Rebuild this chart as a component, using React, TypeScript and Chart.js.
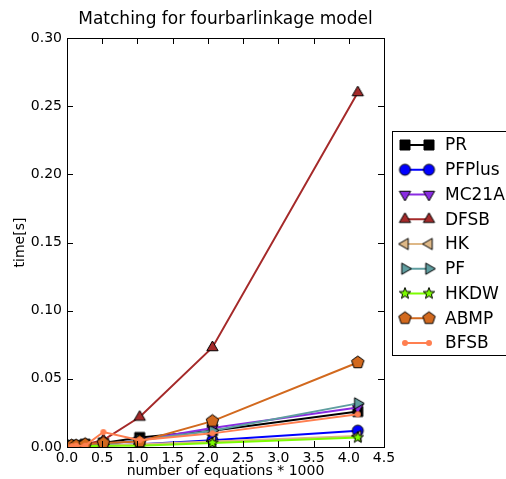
import { useEffect, useRef } from "react";
import { Chart, registerables, type Plugin } from "chart.js";

Chart.register(...registerables);

// number of equations / 1000
const sizes = [0.064, 0.129, 0.258, 0.516, 1.032, 2.064, 4.128];

const seriesNames = ["PR", "PFPlus", "MC21A", "DFSB", "HK", "PF", "HKDW", "ABMP", "BFSB"];

const prTimes = [0.001, 0.001, 0.002, 0.003, 0.007, 0.012, 0.026];
const pfPlusTimes = [0.0005, 0.0005, 0.001, 0.001, 0.002, 0.005, 0.012];
const mc21aTimes = [0.001, 0.001, 0.001, 0.002, 0.005, 0.014, 0.029];
const dfsbTimes = [0.001, 0.001, 0.002, 0.005, 0.022, 0.073, 0.26];
const hkTimes = [0.0005, 0.0005, 0.001, 0.001, 0.002, 0.004, 0.008];
const pfTimes = [0.001, 0.001, 0.001, 0.002, 0.005, 0.012, 0.032];
const hkdwTimes = [0.0003, 0.0003, 0.0005, 0.001, 0.001, 0.003, 0.007];
const abmpTimes = [0.001, 0.001, 0.002, 0.003, 0.004, 0.019, 0.062];
const bfsbTimes = [0.0005, 0.001, 0.001, 0.011, 0.005, 0.01, 0.024];

const allTimes = [prTimes, pfPlusTimes, mc21aTimes, dfsbTimes, hkTimes, pfTimes, hkdwTimes, abmpTimes, bfsbTimes];

const xTicks = [0, 0.5, 1, 1.5, 2, 2.5, 3, 3.5, 4, 4.5];
const yTicks = [0, 0.05, 0.1, 0.15, 0.2, 0.25, 0.3];

type Shape = "square" | "circle" | "triDown" | "triUp" | "triLeft" | "triRight" | "star" | "pentagon" | "dot";

const styles: { color: string; shape: Shape; size: number; edge: string | null }[] = [
  { color: "#000000", shape: "square", size: 10, edge: "#000000" },
  { color: "#0000ff", shape: "circle", size: 11, edge: "#000000" },
  { color: "#8a2be2", shape: "triDown", size: 13, edge: "#000000" },
  { color: "#a52a2a", shape: "triUp", size: 13, edge: "#000000" },
  { color: "#deb887", shape: "triLeft", size: 13, edge: "#000000" },
  { color: "#5f9ea0", shape: "triRight", size: 13, edge: "#000000" },
  { color: "#7cfc00", shape: "star", size: 12, edge: "#000000" },
  { color: "#d2691e", shape: "pentagon", size: 13, edge: "#000000" },
  { color: "#ff7f50", shape: "dot", size: 6, edge: null },
];

function polygon(g: CanvasRenderingContext2D, m: number, r: number, n: number, start: number, inner?: number) {
  const count = inner ? n * 2 : n;
  for (let i = 0; i < count; i++) {
    const a = start + (i * 2 * Math.PI) / count;
    const rr = inner && i % 2 === 1 ? r * inner : r;
    const px = m + rr * Math.cos(a);
    const py = m + rr * Math.sin(a);
    if (i === 0) g.moveTo(px, py);
    else g.lineTo(px, py);
  }
}

function makeMarker(shape: Shape, fill: string, edge: string | null, size: number) {
  const pad = 2;
  const s = size + pad * 2;
  const c = document.createElement("canvas");
  c.width = s;
  c.height = s;
  const g = c.getContext("2d")!;
  const m = s / 2;
  const r = size / 2;
  g.beginPath();
  switch (shape) {
    case "square":
      g.rect(m - r, m - r, size, size);
      break;
    case "circle":
    case "dot":
      g.arc(m, m, r, 0, Math.PI * 2);
      break;
    case "triUp":
      polygon(g, m, r, 3, -Math.PI / 2);
      break;
    case "triDown":
      polygon(g, m, r, 3, Math.PI / 2);
      break;
    case "triLeft":
      polygon(g, m, r, 3, Math.PI);
      break;
    case "triRight":
      polygon(g, m, r, 3, 0);
      break;
    case "pentagon":
      polygon(g, m, r, 5, -Math.PI / 2);
      break;
    case "star":
      polygon(g, m, r, 5, -Math.PI / 2, 0.42);
      break;
  }
  g.closePath();
  g.fillStyle = fill;
  g.fill();
  if (edge) {
    g.lineWidth = 1;
    g.strokeStyle = edge;
    g.stroke();
  }
  return c;
}

const FONT = "DejaVu Sans";

export default function App() {
  const canvasRef = useRef<HTMLCanvasElement | null>(null);

  useEffect(() => {
    document.body.style.margin = "0";
    const canvas = canvasRef.current;
    if (!canvas) return;

    const markers = styles.map((s) => makeMarker(s.shape, s.color, s.edge, s.size));

    const frame: Plugin<"line"> = {
      id: "mplFrame",
      afterDraw(chart) {
        const { ctx, chartArea: a, scales } = chart;
        ctx.save();
        ctx.strokeStyle = "#000";
        ctx.lineWidth = 1;
        ctx.strokeRect(Math.round(a.left) + 0.5, Math.round(a.top) + 0.5, Math.round(a.right - a.left), Math.round(a.bottom - a.top));
        ctx.beginPath();
        for (const v of xTicks) {
          const px = Math.round(scales.x.getPixelForValue(v)) + 0.5;
          ctx.moveTo(px, a.bottom);
          ctx.lineTo(px, a.bottom - 6);
          ctx.moveTo(px, a.top);
          ctx.lineTo(px, a.top + 6);
        }
        for (const v of yTicks) {
          const py = Math.round(scales.y.getPixelForValue(v)) + 0.5;
          ctx.moveTo(a.left, py);
          ctx.lineTo(a.left + 6, py);
          ctx.moveTo(a.right, py);
          ctx.lineTo(a.right - 6, py);
        }
        ctx.stroke();

        // title
        ctx.fillStyle = "#000";
        ctx.font = `17px "${FONT}"`;
        ctx.textAlign = "center";
        ctx.textBaseline = "middle";
        ctx.fillText("Matching for fourbarlinkage model", (a.left + a.right) / 2, 20);

        // legend
        const lx = 392.5;
        const ly = 131.5;
        ctx.fillStyle = "#fff";
        ctx.fillRect(lx, ly, 130, 224);
        ctx.strokeRect(lx, ly, 130, 224);
        ctx.font = `17px "${FONT}"`;
        ctx.textAlign = "left";
        seriesNames.forEach((name, i) => {
          const y = 145 + i * 24.75;
          ctx.strokeStyle = styles[i].color;
          ctx.lineWidth = 2;
          ctx.beginPath();
          ctx.moveTo(405, y);
          ctx.lineTo(429, y);
          ctx.stroke();
          const mk = markers[i];
          ctx.drawImage(mk, 405 - mk.width / 2, y - mk.height / 2);
          ctx.drawImage(mk, 429 - mk.width / 2, y - mk.height / 2);
          ctx.fillStyle = "#000";
          ctx.fillText(name, 445, y + 1);
        });
        ctx.restore();
      },
    };

    const chart = new Chart(canvas, {
      type: "line",
      data: {
        datasets: seriesNames.map((name, i) => ({
          label: name,
          data: sizes.map((x, j) => ({ x, y: allTimes[i][j] })),
          borderColor: styles[i].color,
          backgroundColor: styles[i].color,
          borderWidth: 2,
          pointStyle: markers[i],
          pointRadius: 5,
          tension: 0,
          fill: false,
          order: seriesNames.length - i,
        })),
      },
      options: {
        animation: false,
        responsive: true,
        maintainAspectRatio: false,
        events: [],
        layout: { padding: { left: 0, right: 122, top: 38, bottom: 0 } },
        plugins: {
          legend: { display: false },
          title: { display: false },
          tooltip: { enabled: false },
        },
        scales: {
          x: {
            type: "linear",
            min: 0,
            max: 4.5,
            afterFit: (s) => {
              s.height = 32;
            },
            afterBuildTicks: (s) => {
              s.ticks = xTicks.map((value) => ({ value }));
            },
            grid: { display: false, drawTicks: false },
            border: { display: false },
            ticks: {
              padding: 3,
              color: "#000",
              font: { family: FONT, size: 14 },
              callback: (v) => Number(v).toFixed(1),
            },
            title: {
              display: true,
              text: "number of equations * 1000",
              color: "#000",
              font: { family: FONT, size: 14 },
              padding: { top: 0, bottom: -1 },
            },
          },
          y: {
            type: "linear",
            min: 0,
            max: 0.3,
            afterFit: (s) => {
              s.width = 67;
            },
            afterBuildTicks: (s) => {
              s.ticks = yTicks.map((value) => ({ value }));
            },
            grid: { display: false, drawTicks: false },
            border: { display: false },
            ticks: {
              padding: 5,
              color: "#000",
              font: { family: FONT, size: 14 },
              callback: (v) => Number(v).toFixed(2),
            },
            title: {
              display: true,
              text: "time[s]",
              color: "#000",
              font: { family: FONT, size: 14 },
              padding: { top: 12, bottom: 0 },
            },
          },
        },
      },
      plugins: [frame],
    });

    return () => {
      chart.destroy();
    };
  }, []);

  return (
    <div style={{ width: 506, height: 479, position: "relative", background: "#fff" }}>
      <canvas ref={canvasRef} />
    </div>
  );
}
